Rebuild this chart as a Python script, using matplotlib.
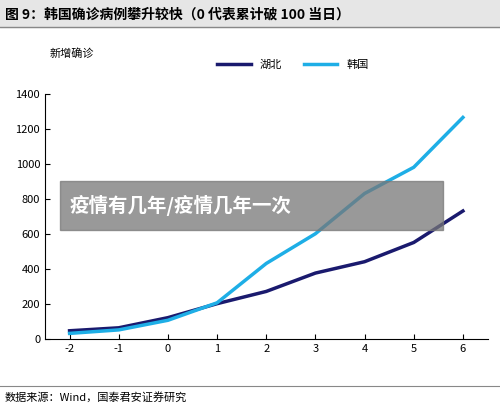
import matplotlib.pyplot as plt

plt.rcParams['font.family'] = ['Noto Sans CJK SC', 'DejaVu Sans']
plt.rcParams['axes.unicode_minus'] = False

days = [-2, -1, 0, 1, 2, 3, 4, 5, 6]
hubei = [45, 62, 120, 200, 270, 375, 440, 550, 730]
korea = [30, 50, 105, 205, 430, 600, 830, 980, 1265]

fig = plt.figure(figsize=(5, 4.08), dpi=100)
ax = fig.add_axes([0.09, 0.17, 0.885, 0.60])
ax.plot(days, hubei, color='#1a1a6e', lw=2.5, label='湖北')
ax.plot(days, korea, color='#1eaee6', lw=2.5, label='韩国')
ax.set_ylim(0, 1400)
ax.set_yticks(range(0, 1401, 200))
ax.set_xlim(-2.5, 6.5)
ax.set_xticks(days)
ax.tick_params(labelsize=8, direction='in')
for s in ['top', 'right']:
    ax.spines[s].set_visible(False)
ax.legend(loc='center', bbox_to_anchor=(0.56, 1.12), ncol=2, frameon=False,
          fontsize=8, handlelength=3)
fig.text(0.1, 0.86, '新增确诊', fontsize=8)

fig.patches.append(plt.Rectangle((0, 0.935), 1, 0.065, transform=fig.transFigure,
                                 color='#e6e6e6', zorder=0))
fig.add_artist(plt.Line2D([0, 1], [0.935, 0.935], color='#888888', lw=1))
fig.text(0.01, 0.965, '图 9：韩国确诊病例攀升较快（0 代表累计破 100 当日）',
         fontsize=10, fontweight='bold', va='center')
fig.add_artist(plt.Line2D([0, 1], [0.055, 0.055], color='#888888', lw=0.8))
fig.text(0.01, 0.025, '数据来源：Wind，国泰君安证券研究', fontsize=8, va='center')

fig.patches.append(plt.Rectangle((0.12, 0.437), 0.766, 0.12, transform=fig.transFigure,
                                 color='#777777', alpha=0.75, zorder=5))
fig.text(0.14, 0.497, '疫情有几年/疫情几年一次', fontsize=14, fontweight='bold',
         color='white', va='center', zorder=6)

fig.savefig('out.png')
